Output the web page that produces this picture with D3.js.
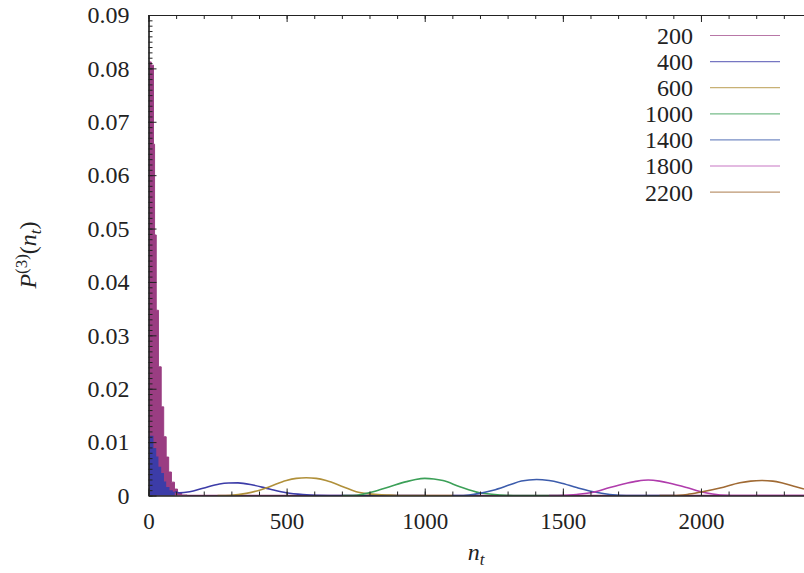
<!DOCTYPE html>
<html><head><meta charset="utf-8">
<script src="https://cdn.jsdelivr.net/npm/d3@7"></script>
<style>body{margin:0;background:#fff} svg{display:block} text{font-family:"Liberation Serif","Times New Roman",Times,serif}</style>
</head><body><svg id="c" width="804" height="573"></svg>
<script>
// ---- data ----
const legendLabels = ["200", "400", "600", "1000", "1400", "1800", "2200"];
const seriesColors = ["#9a3d82", "#3c3ca8", "#b0903a", "#3ca058", "#3c5cac", "#b03cac", "#a06a34"];

// spike of series 200 (step heights starting at n)
const spike200N = [2, 10, 18, 22, 28, 36, 46, 55, 64, 73, 83, 94, 105, 120, 140];
const spike200P = [0.0812, 0.0806, 0.0658, 0.0488, 0.0347, 0.0241, 0.0166, 0.0110, 0.0072, 0.0044, 0.0025, 0.0012, 0.0005, 0.0001, 0];
const tail200N = [140, 2373];
const tail200P = [0, 0];

// spike of series 400 (step heights starting at n), then its smooth part
const spike400N = [2, 18, 28, 36, 46, 56, 64, 76, 88, 95];
const spike400P = [0.0112, 0.0089, 0.0073, 0.0054, 0.0042, 0.0026, 0.0016, 0.0010, 0.0007, 0.0007];
const line400N = [95, 112, 149, 197, 257, 290, 324, 378, 438, 499, 559, 607, 700, 1000];
const line400P = [0.0007, 0.0005, 0.0007, 0.00135, 0.00215, 0.00233, 0.00237, 0.00197, 0.00122, 0.00053, 0.00019, 0.00005, 0, 0];

const line600N = [250, 300, 354, 402, 438, 499, 535, 571, 607, 643, 704, 752, 800, 861, 900, 1100];
const line600P = [0, 0.00005, 0.0004, 0.0010, 0.00165, 0.0028, 0.0032, 0.00333, 0.0032, 0.0028, 0.00165, 0.0007, 0.0003, 0.0001, 0, 0];

const line1000N = [700, 740, 780, 813, 873, 934, 967, 1000, 1033, 1066, 1127, 1199, 1272, 1320, 1500];
const line1000P = [0, 0, 0.0003, 0.0007, 0.00165, 0.0026, 0.0030, 0.0032, 0.0031, 0.0028, 0.00165, 0.0005, 0.0001, 0, 0];

const line1400N = [1100, 1120, 1160, 1199, 1248, 1308, 1350, 1405, 1450, 1489, 1550, 1610, 1670, 1730, 1900];
const line1400P = [0, 0, 0.0001, 0.0004, 0.0010, 0.0020, 0.0027, 0.0030, 0.0028, 0.0024, 0.0015, 0.0007, 0.0002, 0, 0];

const line1800N = [1450, 1480, 1550, 1610, 1670, 1731, 1770, 1809, 1850, 1888, 1948, 2008, 2069, 2150, 2373];
const line1800P = [0, 0, 0.0002, 0.0006, 0.0015, 0.0023, 0.0027, 0.0029, 0.0027, 0.0023, 0.0015, 0.0006, 0.0001, 0, 0];

const line2200N = [1850, 1900, 1950, 1996, 2069, 2141, 2180, 2220, 2260, 2298, 2340, 2373];
const line2200P = [0, 0, 0.0002, 0.0006, 0.0014, 0.0024, 0.0027, 0.0028, 0.0027, 0.0023, 0.0017, 0.0012];

const xMajorTicks = [0, 500, 1000, 1500, 2000];
const xMinorTicks = d3.range(0, 2400, 100);
const yMajorTicks = [0, 0.01, 0.02, 0.03, 0.04, 0.05, 0.06, 0.07, 0.08, 0.09];
const yMinorTicks = d3.range(0, 0.0905, 0.001);

// ---- drawing ----
const svg = d3.select("#c");
const x = d3.scaleLinear().domain([0, 2373]).range([148.5, 804]);
const y = d3.scaleLinear().domain([0, 0.09]).range([495.5, 15]);

const zip = (a, b) => a.map((v, i) => [v, b[i]]);

const plot = svg.append("g");
plot.append("clipPath").attr("id", "clip").append("rect")
  .attr("x", 148.5).attr("y", 14).attr("width", 660).attr("height", 482);
const g = plot.append("g").attr("clip-path", "url(#clip)");

const area = d3.area().x(d => x(d[0])).y0(y(0)).y1(d => y(d[1])).curve(d3.curveStepAfter);
const line = d3.line().x(d => x(d[0])).y(d => y(d[1])).curve(d3.curveMonotoneX);
const stepLine = d3.line().x(d => x(d[0])).y(d => y(d[1])).curve(d3.curveStepAfter);

// series 200
g.append("path").attr("d", area(zip(spike200N, spike200P)))
  .attr("fill", seriesColors[0]).attr("stroke", "none");
g.append("path").attr("d", stepLine(zip(spike200N, spike200P)))
  .attr("fill", "none").attr("stroke", seriesColors[0]).attr("stroke-width", 1);
g.append("path").attr("d", line(zip(tail200N, tail200P)))
  .attr("fill", "none").attr("stroke", seriesColors[0]).attr("stroke-width", 1.5);
// series 400
g.append("path").attr("d", area(zip(spike400N, spike400P)))
  .attr("fill", seriesColors[1]).attr("stroke", "none");
g.append("path").attr("d", line(zip(line400N, line400P)))
  .attr("fill", "none").attr("stroke", seriesColors[1]).attr("stroke-width", 1.6);

const others = [
  [line600N, line600P], [line1000N, line1000P], [line1400N, line1400P],
  [line1800N, line1800P], [line2200N, line2200P]
];
others.forEach((s, i) => {
  g.append("path").attr("d", line(zip(s[0], s[1])))
    .attr("fill", "none").attr("stroke", seriesColors[i + 2]).attr("stroke-width", 1.6);
});

// axes
const axisColor = "#222";
function style(sel) {
  sel.attr("font-family", null).attr("font-size", null);
  sel.selectAll("path.domain").attr("stroke", axisColor).attr("stroke-width", 1.2);
  sel.selectAll(".tick line").attr("stroke", axisColor).attr("stroke-width", 1);
  sel.selectAll("text").attr("font-size", 23).attr("fill", "#222");
}
// bottom
svg.append("g").attr("transform", `translate(0,${y(0)})`)
  .call(d3.axisBottom(x).tickValues(xMinorTicks).tickSize(-4).tickSizeOuter(0).tickFormat(""))
  .call(style);
svg.append("g").attr("transform", `translate(0,${y(0)})`)
  .call(d3.axisBottom(x).tickValues(xMajorTicks).tickSize(-7).tickSizeOuter(0).tickPadding(17).tickFormat(d3.format("d")))
  .call(style);
// top
svg.append("g").attr("transform", `translate(0,${y(0.09)})`)
  .call(d3.axisTop(x).tickValues(xMinorTicks).tickSize(-4).tickSizeOuter(0).tickFormat(""))
  .call(style);
svg.append("g").attr("transform", `translate(0,${y(0.09)})`)
  .call(d3.axisTop(x).tickValues(xMajorTicks).tickSize(-7).tickSizeOuter(0).tickFormat(""))
  .call(style);
// left
svg.append("g").attr("transform", `translate(${x(0)},0)`)
  .call(d3.axisLeft(y).tickValues(yMinorTicks).tickSize(-4).tickSizeOuter(0).tickFormat(""))
  .call(style);
svg.append("g").attr("transform", `translate(${x(0)},0)`)
  .call(d3.axisLeft(y).tickValues(yMajorTicks).tickSize(-8).tickSizeOuter(0).tickPadding(19)
    .tickFormat(d => d === 0 ? "0" : d3.format(".2f")(d)))
  .call(style)
  .call(s => s.selectAll("text").attr("font-size", 24));

// axis titles
const xt = svg.append("text").attr("x", 476).attr("y", 560).attr("text-anchor", "middle")
  .attr("font-size", 24).attr("fill", "#222");
xt.append("tspan").attr("font-style", "italic").text("n");
xt.append("tspan").attr("font-style", "italic").attr("font-size", 17).attr("dy", 5).text("t");

const yt = svg.append("text").attr("transform", "translate(36,255) rotate(-90)").attr("text-anchor", "middle")
  .attr("font-size", 24).attr("fill", "#222");
yt.append("tspan").attr("font-style", "italic").text("P");
yt.append("tspan").attr("font-size", 17).attr("dy", -9).text("(3)");
yt.append("tspan").attr("dy", 9).text("(");
yt.append("tspan").attr("font-style", "italic").text("n");
yt.append("tspan").attr("font-style", "italic").attr("font-size", 17).attr("dy", 5).text("t");
yt.append("tspan").attr("dy", -5).text(")");

// legend
const leg = svg.append("g");
legendLabels.forEach((lab, i) => {
  const ly = 35.5 + i * 26.1;
  leg.append("text").attr("x", 693).attr("y", ly).attr("dy", "0.35em").attr("text-anchor", "end")
    .attr("font-size", 24).attr("fill", "#222").text(lab);
  leg.append("line").attr("x1", 710).attr("x2", 780).attr("y1", ly).attr("y2", ly)
    .attr("stroke", seriesColors[i]).attr("stroke-width", 1.2).attr("stroke-opacity", 0.7);
});
</script></body></html>
